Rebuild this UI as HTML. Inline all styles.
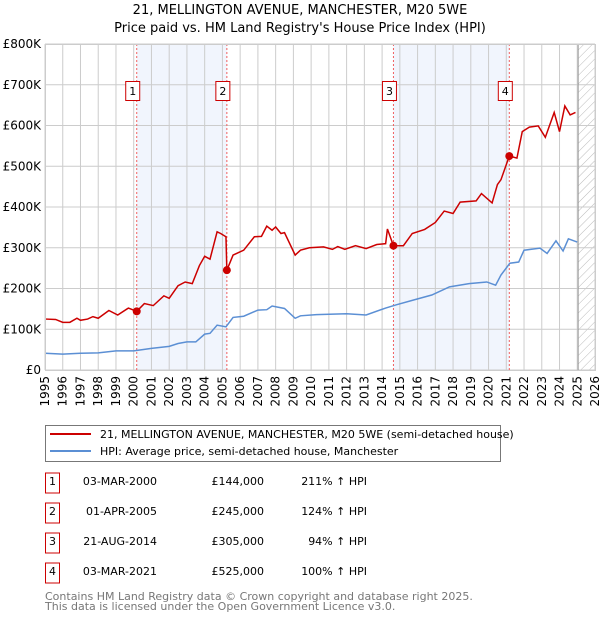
<!DOCTYPE html>
<html><head><meta charset="utf-8"><style>
body{margin:0;background:#fff;width:600px;height:620px;overflow:hidden;font-family:"DejaVu Sans","Liberation Sans",sans-serif}
svg text{font-family:"DejaVu Sans","Liberation Sans",sans-serif}
</style></head><body>
<svg id="c" width="600" height="620">
<defs><pattern id="hatch" width="6" height="6" patternUnits="userSpaceOnUse" patternTransform="rotate(45)"><line x1="0" y1="0" x2="0" y2="6" stroke="#bbb" stroke-width="1"/></pattern></defs>
<text x="300" y="14" text-anchor="middle" font-size="13">21, MELLINGTON AVENUE, MANCHESTER, M20 5WE</text>
<text x="300" y="32" text-anchor="middle" font-size="13">Price paid vs. HM Land Registry's House Price Index (HPI)</text>
<g id="plot"></g>
<g>
<rect x="45.5" y="425.5" width="455" height="36" fill="#fff" stroke="#777"/>
<line x1="50" y1="434" x2="91" y2="434" stroke="#cc0000" stroke-width="2"/>
<text x="100" y="438" font-size="11">21, MELLINGTON AVENUE, MANCHESTER, M20 5WE (semi-detached house)</text>
<line x1="50" y1="451" x2="91" y2="451" stroke="#5b8fd4" stroke-width="2"/>
<text x="100" y="455" font-size="11">HPI: Average price, semi-detached house, Manchester</text>
</g>
<g id="table"></g>
<text x="45" y="600" font-size="11" fill="#777">Contains HM Land Registry data © Crown copyright and database right 2025.</text>
<text x="45" y="610" font-size="11" fill="#777">This data is licensed under the Open Government Licence v3.0.</text>
</svg>
<script>
const yTicks=[0,100,200,300,400,500,600,700,800];
const yTickLabels=["£0","£100K","£200K","£300K","£400K","£500K","£600K","£700K","£800K"];
const years=[1995,1996,1997,1998,1999,2000,2001,2002,2003,2004,2005,2006,2007,2008,2009,2010,2011,2012,2013,2014,2015,2016,2017,2018,2019,2020,2021,2022,2023,2024,2025,2026];
const hpiT=[1995,1996,1997,1998,1999,2000,2001,2002,2002.5,2003,2003.5,2004,2004.3,2004.7,2005.2,2005.6,2006.2,2007,2007.5,2007.8,2008.5,2009.1,2009.4,2010.3,2011.25,2012,2013.1,2014.2,2014.8,2015.8,2016.8,2017.8,2018.9,2019.9,2020.4,2020.7,2021.2,2021.7,2022,2022.9,2023.3,2023.8,2024.2,2024.5,2025.0];
const hpiV=[41,39,41,42,47,47,53,58,65,69,69,88,90,110,106,129,132,147,148,157,151,127,133,136,137,138,135,152,160,172,184,204,212,216,208,233,262,265,294,299,286,317,292,322,314];
const propT=[1995.05,1995.6,1996,1996.4,1996.8,1997,1997.4,1997.7,1998,1998.6,1999.1,1999.7,2000.17,2000.6,2001.1,2001.7,2002,2002.5,2002.9,2003.3,2003.7,2004,2004.3,2004.7,2004.9,2005.2,2005.25,2005.6,2006.2,2006.8,2007.2,2007.5,2007.8,2008,2008.3,2008.5,2009.1,2009.4,2009.9,2010.7,2011.2,2011.5,2011.9,2012.5,2013.1,2013.7,2014.2,2014.3,2014.64,2015.2,2015.7,2016.4,2017,2017.5,2018,2018.4,2019.3,2019.6,2020.2,2020.5,2020.7,2021.17,2021.6,2021.9,2022.3,2022.8,2023.2,2023.7,2024.0,2024.3,2024.6,2024.9];
const propV=[125,124,117,117,127,122,125,131,127,146,135,152,144,163,158,182,176,207,216,212,256,279,272,339,335,327,245,282,294,327,328,353,343,351,335,337,282,294,300,302,296,303,296,305,298,308,310,346,305,305,335,345,362,390,384,412,415,433,410,455,467,525,520,585,596,599,571,632,585,648,626,632];
const saleT=[2000.17,2005.25,2014.64,2021.17];
const saleV=[144,245,305,525];
const saleLabels=["1","2","3","4"];
const saleDates=["03-MAR-2000","01-APR-2005","21-AUG-2014","03-MAR-2021"];
const salePrices=["£144,000","£245,000","£305,000","£525,000"];
const saleHpi=["211% ↑ HPI","124% ↑ HPI","94% ↑ HPI","100% ↑ HPI"];
const X0=45,X1=595,Y0=370,Y1=44;
const xs=t=>X0+(t-1995)/(2026-1995)*(X1-X0);
const ys=v=>Y0-v/800*(Y0-Y1);
const NS="http://www.w3.org/2000/svg";
const plot=document.getElementById('plot');
function mk(tag,attrs,parent){const e=document.createElementNS(NS,tag);for(const k in attrs)e.setAttribute(k,attrs[k]);(parent||plot).appendChild(e);return e;}
let e;
e=mk('rect',{x:X0,y:Y1,width:X1-X0,height:Y0-Y1,fill:'#fff'});


for(let i=0;i<2;i++){
 e=mk('rect',{x:xs(saleT[i*2]),y:Y1,width:xs(saleT[i*2+1])-xs(saleT[i*2]),height:Y0-Y1,fill:'#eef3fc',opacity:0.8});
 
 
}
e=mk('rect',{x:xs(2025.05),y:Y1,width:X1-xs(2025.05),height:Y0-Y1,fill:'url(#hatch)'});


years.forEach(y=>{
 e=mk('line',{x1:xs(y),x2:xs(y),y1:Y1,y2:Y0,stroke:'#ccc','stroke-width':1});
 
 
 e=mk('text',{x:0,y:0,'font-size':12,'text-anchor':'end',transform:`translate(${xs(y)+4},${Y0+6}) rotate(-90)`});
 e.textContent=y;
 
 
});
yTicks.forEach((v,i)=>{
 e=mk('line',{x1:X0,x2:X1,y1:ys(v),y2:ys(v),stroke:'#ccc','stroke-width':1});
 
 
 e=mk('text',{x:X0-4,y:ys(v)+4,'font-size':12,'text-anchor':'end'});
 e.textContent=yTickLabels[i];
 
 
});
e=mk('line',{x1:xs(2025.05),x2:xs(2025.05),y1:Y1,y2:Y0,stroke:'#999','stroke-width':1});


saleT.forEach((t,i)=>{
 e=mk('line',{x1:xs(t),x2:xs(t),y1:Y1,y2:Y0,stroke:'#f06060','stroke-width':1,'stroke-dasharray':'2,2'});
 
 
});
e=mk('polyline',{points:hpiT.map((t,i)=>xs(t)+','+ys(hpiV[i])).join(' '),fill:'none',stroke:'#5b8fd4','stroke-width':1.5});


e=mk('polyline',{points:propT.map((t,i)=>xs(t)+','+ys(propV[i])).join(' '),fill:'none',stroke:'#cc0000','stroke-width':1.5});


saleT.forEach((t,i)=>{
 e=mk('circle',{cx:xs(t),cy:ys(saleV[i]),r:4,fill:'#cc0000'});
 
 
 e=mk('rect',{x:xs(t)-11,y:81.5,width:14,height:19,fill:'#fff',stroke:'#cc0000'});
 
 
 e=mk('text',{x:xs(t)-4,y:95,'font-size':11,'text-anchor':'middle'});
 e.textContent=saleLabels[i];
 
 
});
e=mk('rect',{x:X0+0.5,y:Y1+0.5,width:X1-X0,height:Y0-Y1,fill:'none',stroke:'#ccc'});


const tbl=document.getElementById('table');
saleT.forEach((t,i)=>{
 const cy=483+i*30;
 e=mk('rect',{x:45.5,y:cy-10,width:14,height:20,fill:'#fff',stroke:'#cc0000'},tbl);
 
 
 e=mk('text',{x:52.5,y:cy+2,'font-size':11,'text-anchor':'middle'},tbl);
 e.textContent=saleLabels[i];
 
 
 e=mk('text',{x:157,y:cy+2,'font-size':11,'text-anchor':'end'},tbl);
 e.textContent=saleDates[i];
 
 
 e=mk('text',{x:264,y:cy+2,'font-size':11,'text-anchor':'end'},tbl);
 e.textContent=salePrices[i];
 
 
 e=mk('text',{x:367,y:cy+2,'font-size':11,'text-anchor':'end'},tbl);
 e.textContent=saleHpi[i];
 
 
});
</script>
</body></html>
